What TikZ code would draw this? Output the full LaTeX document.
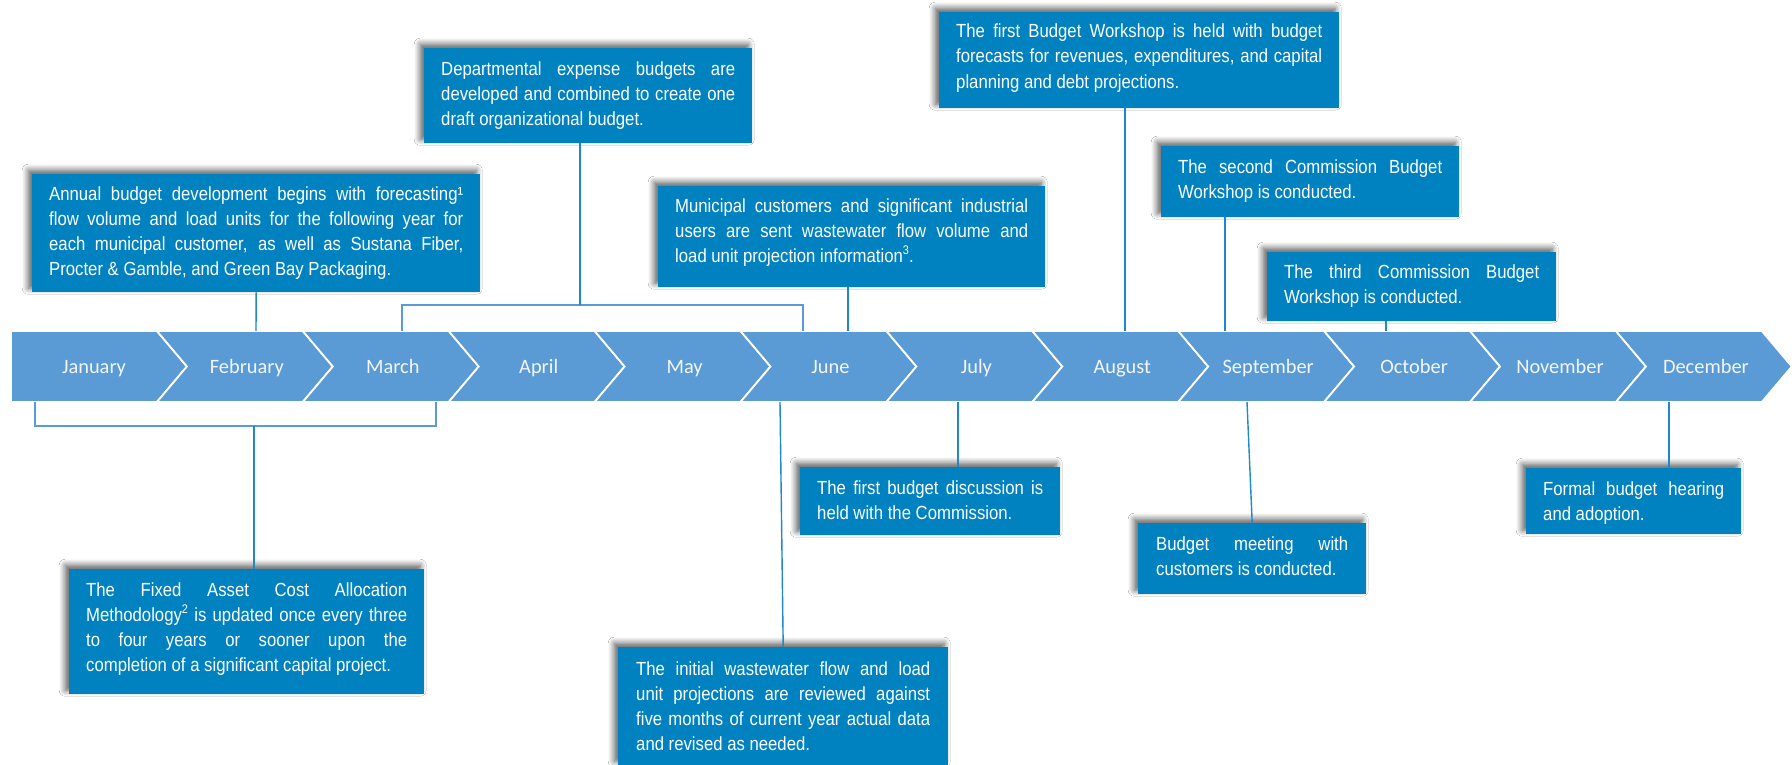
\documentclass[tikz,border=0pt]{standalone}
\usepackage{fontspec}
\setmainfont{Liberation Sans}[FakeStretch=0.88]
\newfontfamily\monthfont{Carlito}
\usetikzlibrary{shadows.blur}
\definecolor{bandblue}{HTML}{5B9BD5}
\definecolor{boxblue}{RGB}{0,130,192}
\definecolor{connblue}{RGB}{30,136,200}
\definecolor{monthwhite}{RGB}{242,246,252}
\newcommand\evtext[4]{\parbox[c][#1][t]{#2}{\fontsize{19}{25.2}\selectfont\hyphenpenalty=10000\exhyphenpenalty=10000\tolerance=10000\vspace*{#3}\rule{0pt}{14pt}#4}}
\newcommand\supnum[1]{\raisebox{0.42em}{\fontsize{12.5}{12.5}\selectfont #1}}
\begin{document}
\begin{tikzpicture}[x=1pt,y=-1pt,
  evbox/.style={fill=boxblue,text=white,inner ysep=0pt,anchor=north west,
    blur shadow={shadow xshift=-4pt,shadow yshift=4pt,shadow blur radius=6pt,shadow blur steps=8,shadow opacity=65}},
  conn/.style={draw=connblue,line width=1.4pt},
  bracket/.style={draw=bandblue,line width=1.8pt},
  chev/.style={fill=bandblue,draw=white,line width=1.8pt,line join=miter},
  monthlbl/.style={anchor=base,text=monthwhite,font={\monthfont\fontsize{20.4}{24}\selectfont},inner sep=0pt}]
\useasboundingbox (0,0) rectangle (1792,765);
\fill[white] (0,0) rectangle (1792,765);
% chevrons
\foreach \mname [count=\i from 0] in {January,February,March,April,May,June,July,August,September,October,November,December}{
  \pgfmathsetmacro\xa{11+145.9*\i}
  \pgfmathsetmacro\xb{\xa+145.9}
  \ifnum\i=0
    \path[chev] (\xa,331) -- (\xb,331) -- (\xb+30,366.5) -- (\xb,402) -- (\xa,402) -- cycle;
    \node[monthlbl] (m\i) at (94,373) {\mname};
  \else
    \path[chev] (\xa,331) -- (\xb,331) -- (\xb+30,366.5) -- (\xb,402) -- (\xa,402) -- (\xa+30,366.5) -- cycle;
    \node[monthlbl] (m\i) at (\xa+90,373) {\mname};
  \fi
}
% anchor coordinates on the band
\coordinate (cA) at (256,331);
\coordinate (bB) at (580,305);
\coordinate (br1) at (402,331);
\coordinate (br2) at (803,331);
\coordinate (cC) at (848,331);
\coordinate (cD) at (1125,331);
\coordinate (cE) at (1225,331);
\coordinate (cF) at (1386,331);
\coordinate (bl1) at (35,402);
\coordinate (bl2) at (436,402);
\coordinate (bG) at (254,426);
\coordinate (cH) at (958,402);
\coordinate (cI) at (780,402);
\coordinate (cJ) at (1247,402);
\coordinate (cK) at (1669,402);
% brackets
\draw[bracket] (br1) |- (bB) -| (br2);
\draw[bracket] (bl1) |- (bG) -| (bl2);
% boxes
\node[evbox,inner xsep=17pt] (A) at (32,174) {\evtext{118pt}{414pt}{12pt}{Annual budget development begins with forecasting¹\linebreak flow volume and load units for the following year for\linebreak each municipal customer, as well as Sustana Fiber,\linebreak Procter \& Gamble, and Green Bay Packaging.}};
\node[evbox,inner xsep=17pt] (B) at (424,48) {\evtext{95pt}{294pt}{13pt}{Departmental expense budgets are\linebreak developed and combined to create one\linebreak draft organizational budget.}};
\node[evbox,inner xsep=17pt] (C) at (658,186) {\evtext{101pt}{353pt}{12pt}{Municipal customers and significant industrial\linebreak users are sent wastewater flow volume and\linebreak load unit projection information\supnum{3}.}};
\node[evbox,inner xsep=17pt] (D) at (939,12) {\evtext{96pt}{366pt}{11.5pt}{The first Budget Workshop is held with budget\linebreak forecasts for revenues, expenditures, and capital\linebreak planning and debt projections.}};
\node[evbox,inner xsep=17pt] (E) at (1161,146) {\evtext{71pt}{264pt}{13pt}{The second Commission Budget\linebreak Workshop is conducted.}};
\node[evbox,inner xsep=17pt] (F) at (1267,252) {\evtext{69pt}{255pt}{12pt}{The third Commission Budget\linebreak Workshop is conducted.}};
\node[evbox,inner xsep=17pt] (G) at (69,569) {\evtext{125pt}{321pt}{13pt}{The Fixed Asset Cost Allocation\linebreak Methodology\supnum{2} is updated once every three\linebreak to four years or sooner upon the\linebreak completion of a significant capital project.}};
\node[evbox,inner xsep=17pt] (H) at (800,467) {\evtext{68pt}{226pt}{13pt}{The first budget discussion is\linebreak held with the Commission.}};
\node[evbox,inner xsep=18pt] (I) at (618,647) {\evtext{118pt}{294pt}{14pt}{The initial wastewater flow and load\linebreak unit projections are reviewed against\linebreak five months of current year actual data\linebreak and revised as needed.}};
\node[evbox,inner xsep=18pt] (J) at (1138,523) {\evtext{71pt}{192pt}{13pt}{Budget meeting with\linebreak customers is conducted.}};
\node[evbox,inner xsep=17pt] (K) at (1526,468) {\evtext{66pt}{181pt}{13pt}{Formal budget hearing\linebreak and adoption.}};
% connectors
\draw[conn] (A.south) -- (cA);
\draw[conn] (bB |- B.south) -- (bB);
\draw[conn] (cC |- C.south) -- (cC);
\draw[conn] (cD |- D.south) -- (cD);
\draw[conn] (cE |- E.south) -- (cE);
\draw[conn] (cF |- F.south) -- (cF);
\draw[conn] (bG) -- (bG |- G.north);
\draw[conn] (cH) -- (cH |- H.north);
\draw[conn] (cI) -- (I.north);
\draw[conn] (cJ) -- (J.north);
\draw[conn] (cK) -- (cK |- K.north);
\end{tikzpicture}
\end{document}
